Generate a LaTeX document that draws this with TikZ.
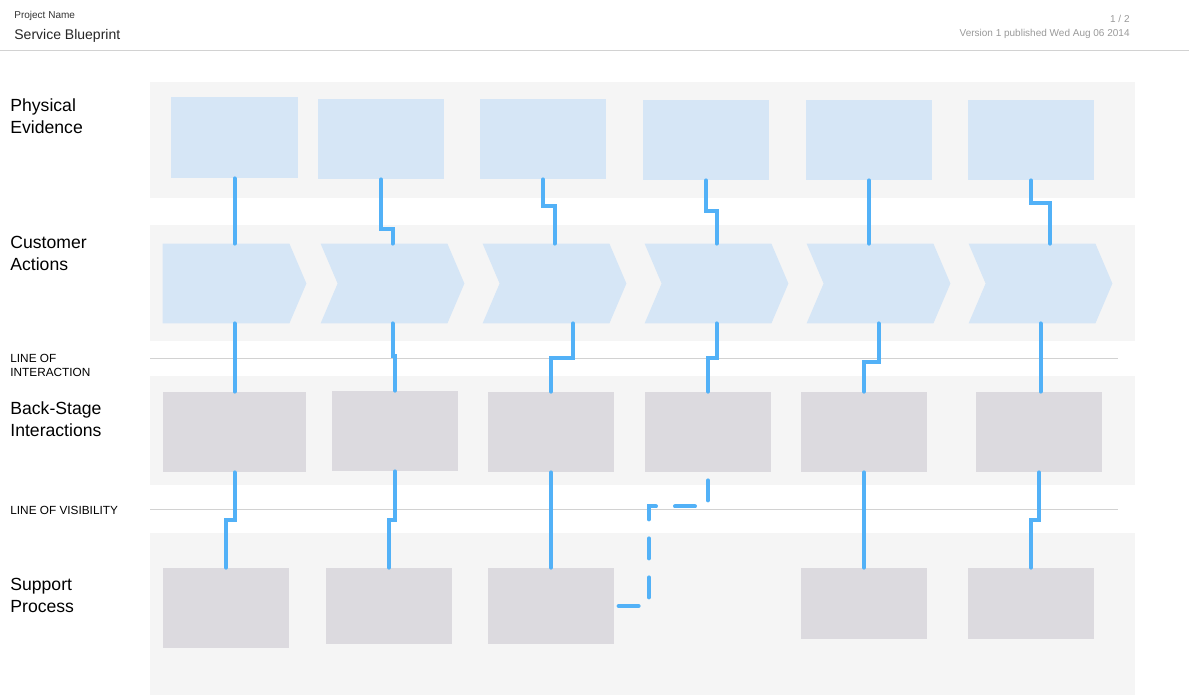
\documentclass[tikz,border=0pt]{standalone}
\usepackage{fontspec}
\setmainfont{Liberation Sans}
\usetikzlibrary{calc}
\definecolor{lanegray}{HTML}{F5F5F5}
\definecolor{paleblue}{HTML}{D6E6F6}
\definecolor{boxgray}{HTML}{DCDADF}
\definecolor{linkblue}{HTML}{52B1F7}
\definecolor{rulegray}{HTML}{D2D2D2}
\definecolor{metagray}{HTML}{999999}
\tikzset{
  lane/.style={fill=lanegray},
  divider/.style={draw=rulegray, line width=0.5pt},
  evidence/.style={rectangle, fill=paleblue, inner sep=0pt, minimum width=63pt, minimum height=40pt},
  action/.style={rectangle, inner sep=0pt, minimum width=71.5pt, minimum height=39.5pt},
  backbox/.style={rectangle, fill=boxgray, inner sep=0pt, minimum width=63pt, minimum height=40pt},
  link/.style={draw=linkblue, line width=2pt, line cap=round},
  dashedlink/.style={link, dash pattern=on 10pt off 9.5pt},
  lanelabel/.style={anchor=west, align=left, inner sep=0pt, font=\fontsize{8.8pt}{11pt}\selectfont},
  linelabel/.style={anchor=west, align=left, inner sep=0pt, font=\fontsize{5.9pt}{7pt}\selectfont},
}
\begin{document}
\begin{tikzpicture}[x=0.5pt,y=-0.5pt]
\useasboundingbox (0,0) rectangle (1189,697);

% header
\node[anchor=west, inner sep=0pt, text=black!80, font=\fontsize{5pt}{6pt}\selectfont] (project) at (14,16) {Project Name};
\node[anchor=west, inner sep=0pt, text=black!85, font=\fontsize{7pt}{8pt}\selectfont] (title) at (14,36) {Service Blueprint};
\node[anchor=east, inner sep=0pt, text=metagray, font=\fontsize{5pt}{6pt}\selectfont] (page) at (1130,19) {1 / 2};
\node[anchor=east, inner sep=0pt, text=metagray, font=\fontsize{5pt}{6pt}\selectfont] (version) at (1130,34) {Version 1 published Wed Aug 06 2014};
\path[divider] (0,50) -- (1189,50);

% lanes
\path[lane] (150,82) rectangle (1135,198);
\path[lane] (150,225) rectangle (1135,341);
\path[lane] (150,376) rectangle (1135,485);
\path[lane] (150,533) rectangle (1135,695);
\path[divider] (150,358) -- (1118,358);
\path[divider] (150,509) -- (1118,509);

% physical evidence
\node[evidence, minimum width=63.5pt, minimum height=40.5pt] (pe1) at (234.5,137.5) {};
\node[evidence] (pe2) at (381,139) {};
\node[evidence] (pe3) at (543,139) {};
\node[evidence] (pe4) at (706,140) {};
\node[evidence] (pe5) at (869,140) {};
\node[evidence] (pe6) at (1031,140) {};

% customer actions
\node[action] (ca1) at (234.5,283.5) {};
\node[action] (ca2) at (392.5,283.5) {};
\node[action] (ca3) at (554.5,283.5) {};
\node[action] (ca4) at (716.5,283.5) {};
\node[action] (ca5) at (878.5,283.5) {};
\node[action] (ca6) at (1040.5,283.5) {};
\fill[paleblue] (ca1.north west) -- ([xshift=-8.5pt]ca1.north east) -- (ca1.east) -- ([xshift=-8.5pt]ca1.south east) -- (ca1.south west) -- cycle;
\foreach \c in {ca2,ca3,ca4,ca5,ca6}
  \fill[paleblue] (\c.north west) -- ([xshift=-8.5pt]\c.north east) -- (\c.east) -- ([xshift=-8.5pt]\c.south east) -- (\c.south west) -- ([xshift=8.5pt]\c.west) -- cycle;

% back-stage interactions
\node[backbox, minimum width=71.5pt] (bs1) at (234.5,432) {};
\node[backbox] (bs2) at (395,431) {};
\node[backbox] (bs3) at (551,432) {};
\node[backbox] (bs4) at (708,432) {};
\node[backbox] (bs5) at (864,432) {};
\node[backbox] (bs6) at (1039,432) {};

% support process
\node[backbox] (sp1) at (226,608) {};
\node[backbox, minimum height=38pt] (sp2) at (389,606) {};
\node[backbox, minimum height=38pt] (sp3) at (551,606) {};
\node[backbox, minimum height=35.5pt] (sp5) at (864,603.5) {};
\node[backbox, minimum height=35.5pt] (sp6) at (1031,603.5) {};

% evidence -> actions
\path[link] (pe1.south) -- (ca1.north);
\path[link] (pe2.south) -- ++(0,50) -| (ca2.north);
\path[link] (pe3.south) -- ++(0,27) -| (ca3.north);
\path[link] (pe4.south) -- ++(0,31) -| (ca4.north);
\path[link] (pe5.south) -- (pe5.south |- ca5.north);
\path[link] (pe6.south) -- ++(0,23) -| ($(ca6.north)+(9.5,0)$);

% actions -> back-stage
\path[link] (ca1.south) -- (bs1.north);
\path[link] (ca2.south) -- ++(0,33) -| (bs2.north);
\path[link] ($(ca3.south)+(18.5,0)$) -- ++(0,35) -| (bs3.north);
\path[link] (ca4.south) -- ++(0,35) -| (bs4.north);
\path[link] (ca5.south) -- ++(0,39) -| (bs5.north);
\path[link] (ca6.south) -- (ca6.south |- bs6.north);

% back-stage -> support
\path[link] (bs1.south) -- ++(0,48) -| (sp1.north);
\path[link] (bs2.south) -- ++(0,49) -| (sp2.north);
\path[link] (bs3.south) -- (sp3.north);
\path[dashedlink] ($(bs4.south)+(0,8)$) -- ++(0,26) -- ++(-59,0) |- (sp3.east);
\path[link] (bs5.south) -- (sp5.north);
\path[link] (bs6.south) -- ++(0,48) -| (sp6.north);

% lane labels
\node[lanelabel] (evidence) at (10,116) {Physical\\Evidence};
\node[lanelabel] (actions) at (10,253) {Customer\\Actions};
\node[lanelabel] (backstage) at (10,419) {Back-Stage\\Interactions};
\node[lanelabel] (support) at (10,595) {Support\\Process};
\node[linelabel] (interaction) at (10,365) {LINE OF\\INTERACTION};
\node[linelabel] (visibility) at (10,510) {LINE OF VISIBILITY};
\end{tikzpicture}
\end{document}
